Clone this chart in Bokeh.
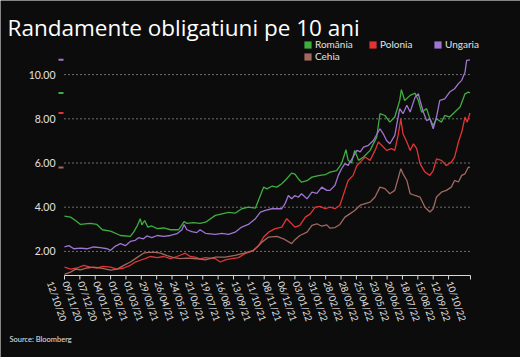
from datetime import date, datetime
from math import pi, nan
from bokeh.plotting import figure
from bokeh.models import Range1d, Label, Legend, LegendItem
from bokeh.core.properties import value
from bokeh.embed import file_html
from bokeh.resources import INLINE

# ---------------- data ----------------
START = date(2020, 11, 9)          # day 0 of the series
AXIS_END_DAY = 740

title_text = "Randamente obligatiuni pe 10 ani"
source_text = "Source: Bloomberg"

tick_labels = ["12/10/20", "09/11/20", "07/12/20", "04/01/21", "01/02/21", "01/03/21",
               "29/03/21", "26/04/21", "24/05/21", "21/06/21", "19/07/21", "16/08/21",
               "13/09/21", "11/10/21", "08/11/21", "06/12/21", "03/01/22", "31/01/22",
               "28/02/22", "28/03/22", "25/04/22", "23/05/22", "20/06/22", "18/07/22",
               "15/08/22", "12/09/22", "10/10/22"]
y_ticks = [2, 4, 6, 8, 10]

series_names = ["România", "Polonia", "Ungaria", "Cehia"]
series_colors = ["#3fae3f", "#e23434", "#9f74d2", "#a0685e"]

ro_days = [0, 11, 20, 29, 47, 59, 69, 84, 102, 120, 126, 133, 138, 141, 146, 152, 159, 169,
           181, 193, 208, 214, 218, 223, 235, 247, 257, 275, 287, 299, 311, 323, 335, 348,
           357, 363, 369, 378, 387, 396, 405, 414, 420, 426, 432, 442, 451, 463, 475, 484,
           496, 505, 513, 517, 523, 529, 536, 545, 557, 569, 575, 584, 593, 602, 611, 614,
           620, 630, 639, 645, 651, 660, 666, 672, 678, 687, 693, 702, 711, 721, 730, 736, 739]
ro_vals = [3.60, 3.55, 3.40, 3.22, 3.27, 3.22, 2.98, 2.92, 2.72, 2.68, 2.87, 3.18, 3.48, 3.20,
           3.40, 3.10, 3.15, 3.03, 3.06, 2.98, 2.98, 3.20, 3.35, 3.27, 3.30, 3.27, 3.32, 3.63,
           3.70, 3.77, 3.73, 3.93, 4.00, 3.96, 4.53, 4.91, 4.83, 4.95, 4.91, 5.06, 5.29, 5.54,
           5.50, 5.29, 5.13, 5.20, 5.36, 5.43, 5.47, 5.59, 5.66, 5.97, 6.60, 6.12, 6.00, 6.57,
           6.12, 6.27, 6.57, 7.17, 8.23, 8.15, 7.85, 8.08, 8.83, 9.32, 8.83, 9.06, 9.16, 8.83,
           8.30, 8.46, 8.00, 7.70, 8.00, 7.85, 8.15, 8.08, 8.30, 8.53, 9.13, 9.21, 9.17]

pl_days = [0, 11, 23, 35, 47, 59, 71, 84, 96, 108, 120, 129, 138, 147, 156, 169, 181, 193,
           205, 214, 220, 229, 238, 247, 257, 275, 284, 293, 305, 317, 329, 342, 354, 363,
           372, 384, 396, 405, 411, 420, 429, 439, 448, 457, 466, 475, 484, 493, 502, 511,
           517, 526, 533, 542, 548, 557, 566, 572, 578, 587, 596, 602, 608, 613, 617, 624,
           630, 636, 642, 648, 657, 666, 672, 678, 687, 696, 705, 711, 718, 724, 730, 734, 739]
pl_vals = [1.29, 1.20, 1.25, 1.37, 1.29, 1.25, 1.32, 1.29, 1.20, 1.25, 1.37, 1.52, 1.60, 1.67,
           1.77, 1.72, 1.77, 1.67, 1.77, 1.86, 1.92, 1.77, 1.74, 1.66, 1.72, 1.67, 1.52, 1.62,
           1.67, 1.72, 1.90, 2.01, 2.27, 2.65, 2.87, 3.03, 3.10, 3.48, 3.33, 3.10, 3.18, 3.55,
           3.70, 4.00, 4.04, 3.93, 4.00, 3.93, 4.09, 4.76, 5.21, 5.44, 5.89, 6.12, 6.27, 6.12,
           6.57, 6.95, 6.80, 6.57, 6.65, 6.57, 7.25, 8.00, 7.32, 6.95, 6.57, 6.87, 6.65, 5.97,
           5.59, 5.44, 5.66, 6.19, 6.12, 5.89, 6.04, 6.27, 6.95, 7.40, 8.08, 7.85, 8.26]

hu_days = [0, 8, 17, 29, 41, 53, 65, 78, 84, 93, 102, 111, 120, 129, 135, 144, 150, 159, 169,
           181, 193, 205, 214, 218, 223, 232, 241, 247, 257, 275, 287, 299, 311, 323, 335, 348,
           357, 366, 378, 396, 402, 408, 414, 420, 426, 432, 442, 451, 460, 469, 478, 484, 493,
           499, 505, 511, 517, 526, 533, 539, 545, 554, 563, 575, 581, 587, 593, 602, 611, 617,
           624, 630, 639, 645, 648, 654, 660, 666, 672, 678, 684, 693, 702, 711, 718, 724, 730,
           733, 739]
hu_vals = [2.20, 2.26, 2.12, 2.15, 2.12, 2.20, 2.17, 2.12, 2.05, 2.24, 2.35, 2.26, 2.45, 2.50,
           2.62, 2.57, 2.70, 2.62, 2.72, 2.68, 2.72, 2.80, 2.98, 3.22, 2.98, 2.90, 2.85, 2.98,
           2.82, 2.77, 2.82, 2.77, 2.87, 3.10, 3.22, 3.48, 3.78, 3.86, 3.93, 3.93, 4.16, 4.53,
           4.38, 4.53, 4.45, 4.61, 4.38, 4.68, 4.63, 4.91, 4.76, 4.76, 4.99, 5.44, 5.74, 5.97,
           5.89, 6.27, 6.57, 6.50, 6.72, 6.80, 7.02, 7.55, 7.32, 7.02, 6.87, 7.25, 8.46, 8.23,
           8.61, 8.31, 8.98, 9.13, 8.83, 8.31, 7.92, 8.00, 7.55, 8.08, 8.83, 8.90, 9.21, 9.36,
           9.59, 9.74, 10.11, 10.64, 10.67]

cz_days = [0, 11, 20, 29, 41, 53, 65, 84, 96, 108, 120, 132, 144, 153, 166, 175, 187, 199,
           211, 223, 235, 247, 257, 275, 293, 311, 329, 345, 354, 360, 372, 387, 399, 414, 420,
           429, 442, 451, 460, 469, 478, 484, 493, 502, 511, 520, 529, 539, 548, 557, 566, 575,
           584, 593, 602, 608, 613, 617, 624, 630, 639, 648, 657, 666, 672, 678, 687, 696, 705,
           711, 718, 724, 730, 736, 739]
cz_vals = [0.96, 1.06, 1.20, 1.17, 1.25, 1.29, 1.25, 1.15, 1.20, 1.37, 1.52, 1.72, 1.92, 1.96,
           1.96, 1.92, 1.81, 1.72, 1.67, 1.70, 1.68, 1.65, 1.62, 1.74, 1.74, 1.82, 1.93, 2.05,
           2.27, 2.42, 2.65, 2.68, 2.57, 2.35, 2.53, 2.72, 2.87, 3.18, 3.25, 3.14, 3.20, 3.05,
           3.08, 3.22, 3.55, 3.70, 3.85, 4.09, 4.16, 4.23, 4.46, 4.91, 4.84, 4.61, 4.76, 5.29,
           5.74, 5.51, 5.21, 4.61, 4.53, 4.46, 4.00, 3.78, 3.93, 4.46, 4.68, 4.76, 4.91, 5.21,
           5.14, 5.44, 5.51, 5.81, 5.80]

series_days = [ro_days, pl_days, hu_days, cz_days]
series_vals = [ro_vals, pl_vals, hu_vals, cz_vals]

# ---------------- layout ----------------
BG = "#0c0c0c"
TXT = "#e2e2e2"
AXIS_COL = "#d8d8d8"
FONT = "Lato"
W, H = 520, 357
FL, FR, FT, FB = 64, 470, 52, 275          # plotting area on the canvas (px)
Y_LO, Y_HI = 0.91, 11.0                    # values at the bottom / top of that area

px_d = (FR - FL) / AXIS_END_DAY
px_v = (FB - FT) / (Y_HI - Y_LO)

p = figure(width=W, height=H, output_backend="svg", toolbar_location=None, title=None,
           x_range=Range1d(-FL / px_d, AXIS_END_DAY + (W - FR) / px_d),
           y_range=Range1d(Y_LO - (H - FB) / px_v, Y_HI + FT / px_v),
           x_axis_location=None, y_axis_location=None,
           min_border_left=0, min_border_right=0, min_border_top=0, min_border_bottom=0)
p.background_fill_color = BG
p.border_fill_color = BG
p.outline_line_color = None
p.grid.visible = False

tick_days = [(datetime.strptime(s, "%d/%m/%y").date() - START).days for s in tick_labels]

# horizontal dotted grid
n = len(y_ticks)
p.segment(x0=[0] * n, y0=y_ticks, x1=[AXIS_END_DAY] * n, y1=y_ticks,
          line_color="#cfcfcf", line_dash="1 3", line_width=1)
p.text(x=[0] * n, y=y_ticks, text=[f"{v:.2f}" for v in y_ticks], x_offset=-9,
       text_align=value("right"), text_baseline=value("middle"), text_font=value(FONT),
       text_font_size=value("10.5px"), text_color=TXT)

# x axis line, ticks and rotated labels
shown = [d for d in tick_days if d >= 0] + [AXIS_END_DAY]
p.segment(x0=[0], y0=[Y_LO], x1=[AXIS_END_DAY], y1=[Y_LO], line_color=AXIS_COL,
          line_width=1.2)
p.ray(x=shown, y=[Y_LO] * len(shown), length=4, length_units="screen", angle=-pi / 2,
      line_color=AXIS_COL, line_width=1)
p.text(x=tick_days, y=[Y_LO] * len(tick_days), text=tick_labels, angle=-1.24,
       x_offset=1, y_offset=6, text_align=value("left"), text_baseline=value("middle"),
       text_font=value(FONT), text_font_size=value("9.5px"), text_color=TXT)

# series
items = []
for name, c, dd, vv in zip(series_names, series_colors, series_days, series_vals):
    p.line(dd, vv, line_color=c, line_width=1.3)
    # swatch-only renderer (no drawable data) so the legend shows a filled square
    sw = p.quad(left=[nan], right=[nan], top=[nan], bottom=[nan], fill_color=c,
                line_color=None)
    items.append(LegendItem(label=name, renderers=[sw]))

# last-value markers just left of the axis start
mx = -3.5 / px_d
p.rect(x=[mx] * len(series_vals), y=[vv[-1] for vv in series_vals], width=5, height=2,
       width_units="screen", height_units="screen", fill_color=series_colors,
       line_color=None)

legend = Legend(items=items, location=(303, H - 62), orientation="horizontal", ncols=3,
                glyph_width=9, glyph_height=9, label_standoff=3, label_width=53,
                spacing=0, padding=0, margin=0, background_fill_alpha=0,
                border_line_color=None, label_text_font=FONT, label_text_font_size="10px",
                label_text_color=TXT)
p.add_layout(legend)

p.add_layout(Label(x=7, y=H - 27, x_units="screen", y_units="screen", text=title_text,
                   text_font="Open Sans", text_font_size="22.5px", text_color="#ffffff",
                   text_baseline="alphabetic"))
p.add_layout(Label(x=9, y=H - 339, x_units="screen", y_units="screen", text=source_text,
                   text_font=FONT, text_font_size="7.5px", text_color=TXT,
                   text_baseline="alphabetic"))

open("out.html", "w").write(file_html(p, INLINE))
